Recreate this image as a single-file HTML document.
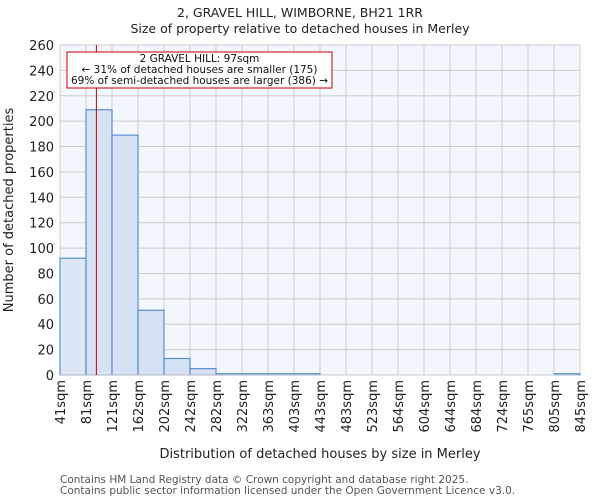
<!DOCTYPE html>
<html><head><meta charset="utf-8"><style>
body{margin:0;background:#fff;font-family:"DejaVu Sans","Liberation Sans",sans-serif;}
</style></head><body>
<svg width="600" height="500" xmlns="http://www.w3.org/2000/svg" font-family="DejaVu Sans, Liberation Sans, sans-serif">
<g id="root"></g>
</svg>
<script>
const categories=["41sqm","81sqm","121sqm","162sqm","202sqm","242sqm","282sqm","322sqm","363sqm","403sqm","443sqm","483sqm","523sqm","564sqm","604sqm","644sqm","684sqm","724sqm","765sqm","805sqm","845sqm"];
const counts=[92,209,189,51,13,5,1,1,1,1,0,0,0,0,0,0,0,0,0,1];
const yTicks=[0,20,40,60,80,100,120,140,160,180,200,220,240,260];
const binEdges=[41,81,121,162,202,242,282,322,363,403,443,483,523,564,604,644,684,724,765,805,845];
const marker=97;
const L=60,R=580,T=45,B=375,yMax=260;
const root=document.getElementById('root');
const NS='http://www.w3.org/2000/svg';
function el(t,a,p){const e=document.createElementNS(NS,t);for(const k in a)e.setAttribute(k,a[k]);(p||root).appendChild(e);return e;}
const bw=(R-L)/counts.length;
const xi=i=>L+i*bw;
const y=v=>B-(v/yMax)*(B-T);
function xv(v){for(let i=0;i<binEdges.length-1;i++){if(v<=binEdges[i+1])return xi(i)+(v-binEdges[i])/(binEdges[i+1]-binEdges[i])*bw;}return R;}
let bg=el('rect',{x:L,y:T,width:R-L,height:B-T,fill:'#f2f6fd'});


yTicks.forEach(v=>{
 let g=el('line',{x1:L,x2:R,y1:y(v),y2:y(v),stroke:'#cccccc','stroke-width':1});
 
 
 let t=el('text',{x:L-6,y:y(v)+5,'text-anchor':'end','font-size':13,fill:'#222'});
 t.textContent=v;
 
 
});
categories.forEach((c,i)=>{
 let g=el('line',{x1:xi(i),x2:xi(i),y1:T,y2:B,stroke:'#cccccc','stroke-width':1});
 
 
 let t=el('text',{x:0,y:0,'text-anchor':'end','font-size':13,fill:'#222',transform:`translate(${xi(i)+5},380) rotate(-90)`});
 t.textContent=c;
 
 
});
counts.forEach((v,i)=>{
 if(v<=0)return;
 let r=el('rect',{x:xi(i),y:y(v),width:bw,height:B-y(v),fill:i==0?'#dde6f4':'#d6e1f3',stroke:'#5b8ed0','stroke-width':1.2});
 
 
});
let ax=el('line',{x1:L,x2:R,y1:B,y2:B,stroke:'#cccccc','stroke-width':1});


let ml=el('line',{x1:xv(marker),x2:xv(marker),y1:T,y2:B,stroke:'#cc0000','stroke-width':1});


let box=el('rect',{x:67,y:52,width:265,height:36,fill:'#fff',stroke:'#cc0000','stroke-width':1});


[["2 GRAVEL HILL: 97sqm",62],["← 31% of detached houses are smaller (175)",73],["69% of semi-detached houses are larger (386) →",84]].forEach(([s,yy])=>{
 let t=el('text',{x:199.5,y:yy,'text-anchor':'middle','font-size':10.5,fill:'#111'});
 t.textContent=s;
 
 
});
const texts=[["2, GRAVEL HILL, WIMBORNE, BH21 1RR",300,17,12.5,'middle','#222','chart-title'],
["Size of property relative to detached houses in Merley",300,33,12.5,'middle','#222','chart-subtitle'],
["Distribution of detached houses by size in Merley",320,458,13,'middle','#222','x-axis-title'],
["Contains HM Land Registry data © Crown copyright and database right 2025.",60,483,10.5,'start','#555','footer-line-1'],
["Contains public sector information licensed under the Open Government Licence v3.0.",60,494,10.5,'start','#555','footer-line-2']];
texts.forEach(([s,x,yy,fs,a,f,n])=>{
 let t=el('text',{x:x,y:yy,'text-anchor':a,'font-size':fs,fill:f});
 t.textContent=s;
 
 
});
let yt=el('text',{x:0,y:0,'text-anchor':'middle','font-size':13,fill:'#222',transform:'translate(13,210) rotate(-90)'});
yt.textContent='Number of detached properties';


</script>
</body></html>
